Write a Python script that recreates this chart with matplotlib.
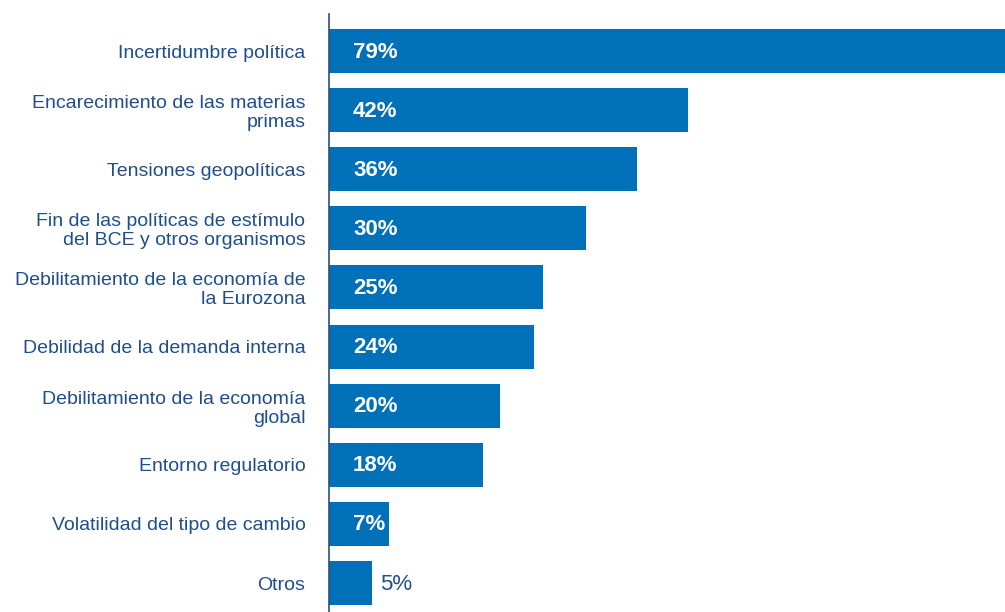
import matplotlib.pyplot as plt
from matplotlib.transforms import offset_copy

categories = [
    "Incertidumbre política",
    "Encarecimiento de las materias\nprimas",
    "Tensiones geopolíticas",
    "Fin de las políticas de estímulo\ndel BCE y otros organismos",
    "Debilitamiento de la economía de\nla Eurozona",
    "Debilidad de la demanda interna",
    "Debilitamiento de la economía\nglobal",
    "Entorno regulatorio",
    "Volatilidad del tipo de cambio",
    "Otros",
]
values = [79, 42, 36, 30, 25, 24, 20, 18, 7, 5]

bar_color = "#0070b8"
text_color = "#1f4e8c"

plt.rcParams['font.family'] = ['Liberation Sans', 'DejaVu Sans']

fig = plt.figure(figsize=(10.05, 6.12), dpi=100)
ax = fig.add_axes([329 / 1005, 0, 1 - 329 / 1005, 1 - 14 / 612])

pos = list(range(len(categories)))
ax.barh(pos, values, height=0.745, color=bar_color, zorder=2)

ax.set_xlim(0, 79)
ax.set_ylim(9.49, -0.626)

for s in ["top", "right", "bottom"]:
    ax.spines[s].set_visible(False)
ax.spines["left"].set_color("#2a4f7a")
ax.spines["left"].set_linewidth(1.2)
ax.spines["left"].set_zorder(3)

ax.set_xticks([])
ax.set_yticks(pos)
ax.set_yticklabels(categories, fontsize=14, color=text_color, linespacing=1.15)
ax.tick_params(axis="y", length=0, pad=17)

inside = offset_copy(ax.transData, fig=fig, x=24, y=-1, units="dots")
outside = offset_copy(ax.transData, fig=fig, x=8, y=-1, units="dots")
for p, v in zip(pos, values):
    if v >= 7:
        ax.text(0, p, f"{v}%", transform=inside, color="white", fontsize=16,
                fontweight="bold", va="center", ha="left")
    else:
        ax.text(v, p, f"{v}%", transform=outside,
                color=text_color, fontsize=16, va="center", ha="left")

fig.savefig("out.png", dpi=100)
